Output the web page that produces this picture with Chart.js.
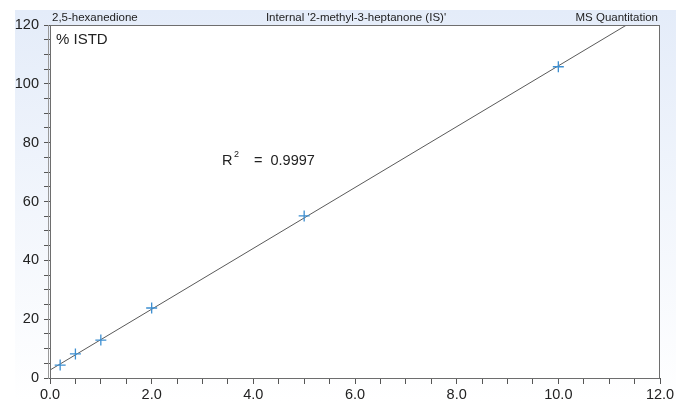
<!DOCTYPE html>
<html>
<head>
<meta charset="utf-8">
<script src="https://cdn.jsdelivr.net/npm/chart.js@4"></script>
<style>
  html, body { margin: 0; padding: 0; background: #fff; }
  #wrap { width: 686px; height: 401px; position: relative; }
</style>
</head>
<body>
<div id="wrap"><canvas id="calChart" width="686" height="401"></canvas></div>
<script>
// calibration points (amount ratio vs % ISTD)
const amounts = [0.2, 0.5, 1.0, 2.0, 5.0, 10.0];
const responses = [4.4, 8.2, 12.9, 23.8, 55.1, 105.8];

// fitted line endpoints
const fitX = [0, 12];
const fitY = [2.7, 126.8];

const headerLeft = "2,5-hexanedione";
const headerMid = "Internal '2-methyl-3-heptanone (IS)'";
const headerRight = "MS Quantitation";
const yTitle = "% ISTD";
const r2Text = "0.9997";

const font = "'Liberation Sans', Arial, sans-serif";

// background gradient + frame + texts
const decor = {
    id: "decor",
    beforeDraw(chart) {
        const c = chart.ctx;
        const g = c.createLinearGradient(0, 10, 0, 401);
        g.addColorStop(0, "#e4ecf9");
        g.addColorStop(1, "#ffffff");
        c.save();
        c.fillStyle = g;
        c.fillRect(15, 10, 661, 391);
        const a = chart.chartArea;
        c.fillStyle = "#ffffff";
        c.fillRect(a.left, a.top, a.right - a.left, a.bottom - a.top);
        c.restore();
    },
    afterDraw(chart) {
        const c = chart.ctx;
        const a = chart.chartArea;
        c.save();
        c.strokeStyle = "#6e6e6e";
        c.lineWidth = 1;
        c.strokeRect(a.left + 0.5, a.top + 0.5, a.right - a.left - 1, a.bottom - a.top);
        c.beginPath();
        c.moveTo(a.left - 1.5, a.top);
        c.lineTo(a.left - 1.5, a.bottom + 1);
        c.strokeStyle = "#9a9a9a";
        c.stroke();

        c.fillStyle = "#222";
        c.font = "11.5px " + font;
        c.textBaseline = "alphabetic";
        c.textAlign = "left";
        c.fillText(headerLeft, 52, 21);
        c.textAlign = "center";
        c.fillText(headerMid, 356, 21);
        c.textAlign = "right";
        c.fillText(headerRight, 658, 21);

        c.textAlign = "left";
        c.font = "15px " + font;
        c.fillText(yTitle, 56, 44);

        c.font = "14.5px " + font;
        c.fillText("R", 222, 165);
        c.font = "9px " + font;
        c.fillText("2", 234, 157);
        c.font = "14.5px " + font;
        c.fillText("=  " + r2Text, 254, 165);
        c.restore();
    }
};

new Chart(document.getElementById("calChart"), {
    type: "scatter",
    data: {
        datasets: [
            {
                type: "line",
                data: fitX.map((x, i) => ({ x: x, y: fitY[i] })),
                borderColor: "#5a5a5a",
                borderWidth: 1,
                pointRadius: 0,
                fill: false,
                order: 2
            },
            {
                data: amounts.map((x, i) => ({ x: x, y: responses[i] })),
                pointStyle: "cross",
                pointRadius: 5.5,
                borderColor: "#3d8fd1",
                backgroundColor: "#3d8fd1",
                borderWidth: 1.3,
                order: 1
            }
        ]
    },
    options: {
        responsive: false,
        animation: false,
        layout: { padding: { left: 0, top: 25, right: 26, bottom: 0 } },
        plugins: { legend: { display: false }, tooltip: { enabled: false } },
        scales: {
            x: {
                type: "linear",
                min: 0,
                max: 12,
                afterFit(s) { s.height = 23; },
                border: { display: false },
                grid: { drawOnChartArea: false, drawTicks: true, tickLength: 6, color: "#555" },
                ticks: {
                    stepSize: 0.5,
                    autoSkip: false,
                    maxRotation: 0,
                    padding: 2,
                    color: "#222",
                    font: { family: font, size: 14.5 },
                    callback: v => (Math.abs(v % 2) < 1e-9 ? v.toFixed(1) : "")
                }
            },
            y: {
                min: 0,
                max: 120,
                afterFit(s) { s.width = 50; },
                border: { display: false },
                grid: { drawOnChartArea: false, drawTicks: true, tickLength: 6, color: "#555" },
                ticks: {
                    stepSize: 5,
                    autoSkip: false,
                    padding: 5,
                    color: "#222",
                    font: { family: font, size: 14.5 },
                    callback: v => (v % 20 === 0 ? String(v) : "")
                }
            }
        }
    },
    plugins: [decor]
});
</script>
</body>
</html>
